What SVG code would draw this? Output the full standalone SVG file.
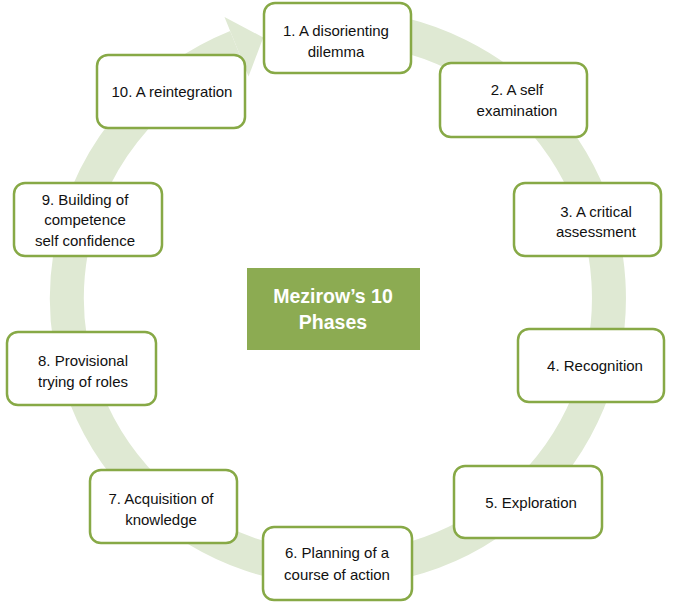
<svg xmlns="http://www.w3.org/2000/svg" width="674" height="602" viewBox="0 0 674 602">
<style>
.box{fill:#ffffff;stroke:#87a946;stroke-width:2.5}
.t{font-family:"Liberation Sans",Arial,sans-serif;font-size:15px;fill:#111111;text-anchor:middle}
.title{font-family:"Liberation Sans",Arial,sans-serif;font-size:19.5px;font-weight:bold;fill:#ffffff;text-anchor:middle}
.ring{fill:none;stroke:#dfe9d3;stroke-width:34}
</style>
<rect width="674" height="602" fill="#ffffff"/>
<g id="connectors">
<path class="ring" d="M 338 27 A 271 271 0 1 1 236.5 46.7"/>
<polygon points="224.5,17.1 263.3,37.5 248.5,76.4" fill="#dfe9d3"/>
</g>
<g id="center">
<rect x="247" y="268" width="173" height="82" fill="#8cab52"/>
<text class="title" x="333" y="303">Mezirow’s 10</text>
<text class="title" x="333" y="329">Phases</text>
</g>
<g id="n1"><rect class="box" x="264" y="3" width="147" height="70" rx="11"/>
<text class="t" x="336" y="36">1. A disorienting</text><text class="t" x="336" y="57">dilemma</text></g>
<g id="n2"><rect class="box" x="440" y="63" width="147" height="74" rx="11"/>
<text class="t" x="517" y="95">2. A self</text><text class="t" x="517" y="116">examination</text></g>
<g id="n3"><rect class="box" x="514" y="183" width="147" height="73" rx="11"/>
<text class="t" x="596" y="217">3. A critical</text><text class="t" x="596" y="237">assessment</text></g>
<g id="n4"><rect class="box" x="518" y="329" width="146" height="73" rx="11"/>
<text class="t" x="595" y="371">4. Recognition</text></g>
<g id="n5"><rect class="box" x="454" y="466" width="148" height="72" rx="11"/>
<text class="t" x="531" y="508">5. Exploration</text></g>
<g id="n6"><rect class="box" x="263" y="527" width="149" height="73" rx="11"/>
<text class="t" x="337" y="558">6. Planning of a</text><text class="t" x="337" y="580">course of action</text></g>
<g id="n7"><rect class="box" x="90" y="470" width="147" height="73" rx="11"/>
<text class="t" x="161" y="504">7. Acquisition of</text><text class="t" x="161" y="525">knowledge</text></g>
<g id="n8"><rect class="box" x="7" y="332" width="149" height="73" rx="11"/>
<text class="t" x="83" y="366">8. Provisional</text><text class="t" x="83" y="387">trying of roles</text></g>
<g id="n9"><rect class="box" x="14" y="183" width="148" height="73" rx="11"/>
<text class="t" x="85" y="205">9. Building of</text><text class="t" x="85" y="225">competence</text><text class="t" x="85" y="246">self confidence</text></g>
<g id="n10"><rect class="box" x="97" y="55" width="148" height="73" rx="11"/>
<text class="t" x="172" y="97">10. A reintegration</text></g>
</svg>
